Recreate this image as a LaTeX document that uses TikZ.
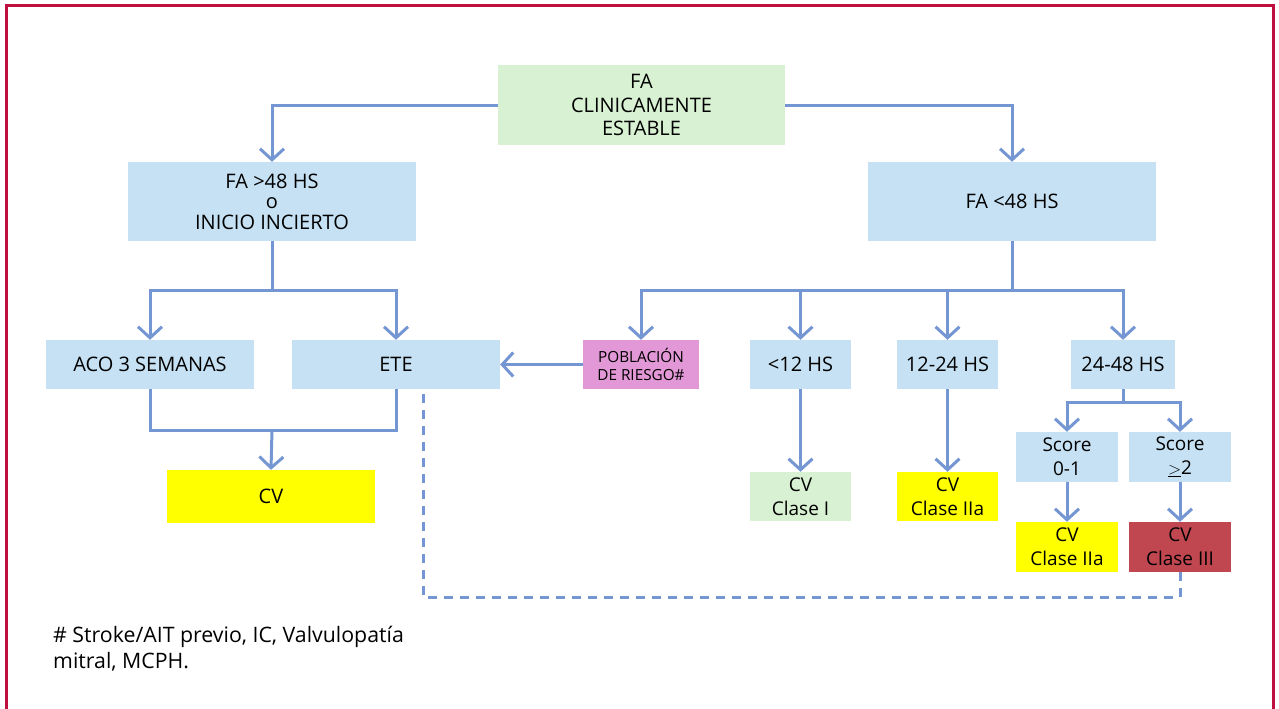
\documentclass[tikz,border=0pt]{standalone}
\usepackage{fontspec}
\setmainfont{Open Sans}
\usetikzlibrary{arrows.meta}
\definecolor{conncol}{RGB}{116,150,210}
\definecolor{bluebox}{RGB}{197,225,243}
\definecolor{greenbox}{RGB}{216,241,210}
\definecolor{pinkbox}{RGB}{226,152,214}
\definecolor{yellowbox}{RGB}{255,255,0}
\definecolor{redbox}{RGB}{192,71,79}
\definecolor{framecol}{RGB}{192,16,63}
\tikzset{
  fbox/.style={rectangle, inner sep=0pt, align=center, text=black,
    font=\fontsize{20}{23.5}\selectfont},
  smallbox/.style={fbox, font=\fontsize{19}{24}\selectfont},
  line/.style={draw=conncol, line width=3pt},
  conn/.style={line, -{Straight Barb[length=11pt,width=24pt]}},
  dashline/.style={draw=conncol, line width=3pt, dash pattern=on 9pt off 7pt},
}
\begin{document}
\begin{tikzpicture}[x=1pt,y=-1pt]
\useasboundingbox (0,0) rectangle (1279,709);
% frame
\draw[framecol, line width=3pt] (6,712) -- (6,5.5) -- (1273,5.5) -- (1273,712);

% nodes
\node[fbox, fill=greenbox, minimum width=287, minimum height=80] (top) at (641.5,105) {FA\\CLINICAMENTE\\ESTABLE};
\node[fbox, fill=bluebox, minimum width=288, minimum height=79, font=\fontsize{20}{20.5}\selectfont] (gt) at (272,201.5) {FA >48 HS\\o\\INICIO INCIERTO};
\node[fbox, fill=bluebox, minimum width=288, minimum height=79] (lt) at (1012,201.5) {FA <48 HS};
\node[fbox, fill=bluebox, minimum width=208, minimum height=49] (aco) at (150,364.5) {ACO 3 SEMANAS};
\node[fbox, fill=bluebox, minimum width=208, minimum height=49] (ete) at (396,364.5) {ETE};
\node[fbox, fill=pinkbox, minimum width=116, minimum height=49, font=\fontsize{15.3}{18.5}\selectfont] (pob) at (641,364.5) {POBLACIÓN\\DE RIESGO\#};
\node[fbox, fill=bluebox, minimum width=101, minimum height=49] (h12) at (800.5,364.5) {<12 HS};
\node[fbox, fill=bluebox, minimum width=101, minimum height=49] (h24) at (947.5,364.5) {12-24 HS};
\node[fbox, fill=bluebox, minimum width=104, minimum height=49] (h48) at (1123,364.5) {24-48 HS};
\node[fbox, fill=yellowbox, minimum width=208, minimum height=53] (cv) at (271,496.5) {CV};
\node[smallbox, fill=greenbox, minimum width=101, minimum height=49] (c1) at (800.5,496.5) {CV\\Clase I};
\node[smallbox, fill=yellowbox, minimum width=101, minimum height=49] (c2) at (947.5,496.5) {CV\\Clase IIa};
\node[smallbox, fill=bluebox, minimum width=102, minimum height=50] (s01) at (1067,457) {Score\\0-1};
\node[smallbox, fill=bluebox, minimum width=102, minimum height=50] (s2) at (1180,457) {Score\\$\underline{>}$2};
\node[smallbox, fill=yellowbox, minimum width=102, minimum height=50] (c3) at (1067,547) {CV\\Clase IIa};
\node[smallbox, fill=redbox, minimum width=102, minimum height=50] (c4) at (1180,547) {CV\\Clase III};

\node[anchor=north west, inner sep=0pt, align=left, font=\fontsize{21.3}{25.5}\selectfont] (note) at (53,626) {\# Stroke/AIT previo, IC, Valvulopatía\\mitral, MCPH.};

% junctions
\coordinate (j1) at (272,290);
\coordinate (j2) at (1012,290);
\coordinate (j3) at (1123,402);
\coordinate (j4) at (272,430);
\coordinate (dend) at (423,389);

% connectors
\draw[conn] (top.west) -| (gt.north);
\draw[conn] (top.east) -| (lt.north);
\draw[line] (gt.south) -- (j1);
\draw[conn] (j1) -| (aco.north);
\draw[conn] (j1) -| (ete.north);
\draw[line] (lt.south) -- (j2);
\draw[conn] (j2) -| (pob.north);
\draw[conn] (j2) -| (h12.north);
\draw[conn] (j2) -| (h24.north);
\draw[conn] (j2) -| (h48.north);
\draw[conn] (pob.west) -- (ete.east);
\draw[line] (aco.south) |- (j4);
\draw[line] (ete.south) |- (j4);
\draw[conn] (j4) -- (cv.north);
\draw[conn] (h12.south) -- (c1.north);
\draw[conn] (h24.south) -- (c2.north);
\draw[line] (h48.south) -- (j3);
\draw[conn] (j3) -| (s01.north);
\draw[conn] (j3) -| (s2.north);
\draw[conn] (s01.south) -- (c3.north);
\draw[conn] (s2.south) -- (c4.north);
\draw[dashline] (c4.south) -- ++(0,25) -| (dend);
\end{tikzpicture}
\end{document}
